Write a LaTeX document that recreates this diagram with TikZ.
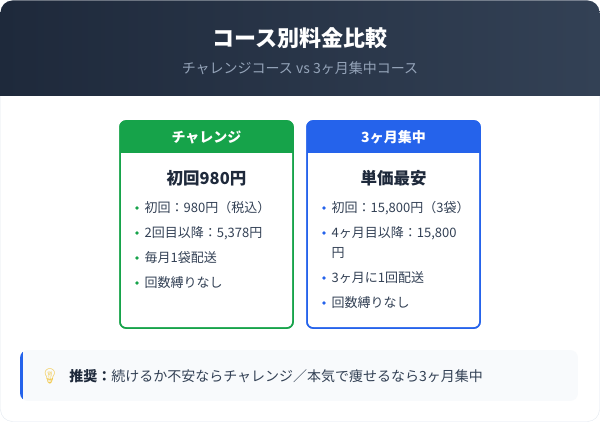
\documentclass[tikz,border=0pt]{standalone}
\usepackage{fontspec}
\setmainfont{Noto Sans CJK JP}
\newfontfamily\emoji{Noto Emoji}
\usetikzlibrary{positioning}

\definecolor{headdark}{HTML}{1E293B}
\definecolor{headlight}{HTML}{334155}
\definecolor{subgray}{HTML}{94A3B8}
\definecolor{textdark}{HTML}{1E293B}
\definecolor{textbody}{HTML}{334155}
\definecolor{greencard}{HTML}{16A34A}
\definecolor{bluecard}{HTML}{2563EB}
\definecolor{notefill}{HTML}{F8FAFC}
\definecolor{cardedge}{HTML}{E2E8F0}
\definecolor{bulb}{HTML}{F2C94C}

\tikzset{
  item/.style={anchor=west, font=\fontsize{13}{15}\selectfont, text=textbody, inner sep=0pt},
  dot/.style={circle, fill=#1, inner sep=0pt, minimum size=3.6pt},
  cardtitle/.style={font=\fontsize{16.5}{18}\selectfont\bfseries, text=textdark},
  tabtext/.style={font=\fontsize{14}{16}\selectfont\bfseries, text=white}
}

\begin{document}
\begin{tikzpicture}[x=1pt, y=-1pt]
      \useasboundingbox (0,0) rectangle (600,422);

      % Outer card
      \draw[cardedge, fill=white, rounded corners=12] (0.5,0.5) rectangle (599.5,421.5);

      % Header band
      \shade[left color=headdark, right color=headlight]
        (0.5,96) {[rounded corners=12] -- (0.5,0.5) -- (599.5,0.5)} -- (599.5,96) -- cycle;
      \node[font=\fontsize{22}{24}\selectfont\bfseries, text=white] (title) at (300,38) {コース別料金比較};
      \node[font=\fontsize{14}{16}\selectfont, text=subgray] (subtitle) at (300,68) {チャレンジコース vs 3ヶ月集中コース};

      % Challenge card
      \draw[greencard, line width=1.5pt, fill=white, rounded corners=6] (120,121) rectangle (293,328);
      \fill[greencard] (120,153) {[rounded corners=6] -- (120,121) -- (293,121)} -- (293,153) -- cycle;
      \draw[greencard, line width=1.5pt, rounded corners=6] (120,121) rectangle (293,328);
      \node[tabtext] (tabA) at (206.5,137) {チャレンジ};
      \node[cardtitle] (headA) at (206.5,178) {初回980円};
      \foreach \y/\t [count=\i] in {208/初回：980円（税込）, 233/2回目以降：5{,}378円, 258/毎月1袋配送, 283/回数縛りなし} {
        \node[dot=greencard] (dA\i) at (137,\y) {};
        \node[item, right=5.5pt of dA\i] (iA\i) {\t};
      }

      % Three-month card
      \draw[bluecard, line width=1.5pt, fill=white, rounded corners=6] (307,121) rectangle (480,328);
      \fill[bluecard] (307,153) {[rounded corners=6] -- (307,121) -- (480,121)} -- (480,153) -- cycle;
      \draw[bluecard, line width=1.5pt, rounded corners=6] (307,121) rectangle (480,328);
      \node[tabtext] (tabB) at (393.5,137) {3ヶ月集中};
      \node[cardtitle] (headB) at (393.5,178) {単価最安};
      \foreach \y/\t [count=\i] in {208/初回：15{,}800円（3袋）, 233/4ヶ月目以降：15{,}800, 278/3ヶ月に1回配送, 303/回数縛りなし} {
        \node[dot=bluecard] (dB\i) at (324,\y) {};
        \node[item, right=5.5pt of dB\i] (iB\i) {\t};
      }
      \node[item] (iB2b) at (iB2.west |- 0,253) {円};

      % Recommendation note
      \begin{scope}
        \clip[rounded corners=8] (20,350) rectangle (578,401);
        \fill[notefill] (20,350) rectangle (578,401);
        \fill[bluecard] (20,350) rectangle (23,401);
      \end{scope}
      \node[font=\emoji\fontsize{15}{15}\selectfont, text=bulb] (bulbicon) at (50,376) {💡};
      \node[item, right=6pt of bulbicon, font=\fontsize{14}{16}\selectfont] (note)
        {\textbf{\color{textdark}推奨：}続けるか不安ならチャレンジ／本気で痩せるなら3ヶ月集中};

\end{tikzpicture}
\end{document}
